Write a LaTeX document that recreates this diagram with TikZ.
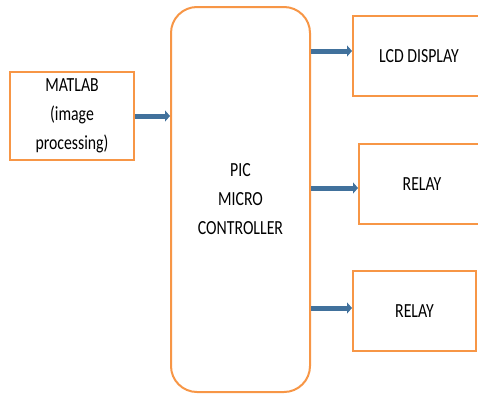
\documentclass[tikz,border=0pt]{standalone}
\usepackage{fontspec}
\setsansfont{Carlito}[FakeStretch=0.79]
\usetikzlibrary{arrows.meta, positioning, calc}
\definecolor{corange}{HTML}{F79646}
\definecolor{cblue}{HTML}{41719C}
\tikzset{
  every picture/.style={font=\sffamily\fontsize{20}{29}\selectfont, line width=2pt},
  box/.style={draw=corange, fill=white, align=center, inner sep=0pt, minimum width=#1, minimum height=80pt},
  box/.default=124pt,
  arrow/.style={-{Triangle[length=5pt, width=11pt]}, draw=cblue, line width=5pt},
}
\begin{document}
\begin{tikzpicture}[x=1pt, y=-1pt]
  \useasboundingbox (0,0) rectangle (478,394);
  \node[box, minimum height=88pt] (matlab) at (72,116) {MATLAB\\(image\\processing)};
  \node[box=139pt, minimum height=385pt, rounded corners=26pt] (pic) at (240.5,199.5) {PIC\\MICRO\\CONTROLLER};
  \node[box=132pt] (lcd) at (419,56) {LCD DISPLAY};
  \node[box=126pt] (relayA) at (422,184) {RELAY};
  \node[box=123pt] (relayB) at (414.5,311) {RELAY};
  \coordinate (inA) at ([yshift=5pt]lcd.west);
  \coordinate (inB) at ([yshift=-4pt]relayA.west);
  \coordinate (inC) at ([yshift=3pt]relayB.west);
  \draw[arrow] (matlab.east) -- (matlab.east -| pic.west);
  \draw[arrow] (inA -| pic.east) -- (inA);
  \draw[arrow] (inB -| pic.east) -- (inB);
  \draw[arrow] (inC -| pic.east) -- (inC);
\end{tikzpicture}
\end{document}
